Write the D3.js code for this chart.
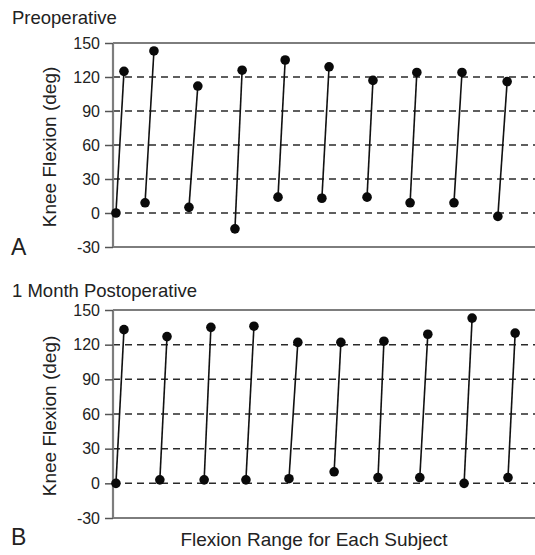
<!DOCTYPE html>
<html>
<head>
<meta charset="utf-8">
<script src="https://cdn.jsdelivr.net/npm/d3@7"></script>
<style>
  html, body { margin: 0; padding: 0; background: #fff; }
  svg { display: block; font-family: "Liberation Sans", Arial, Helvetica, sans-serif; }
</style>
</head>
<body>
<svg id="chart" width="535" height="555"></svg>
<script>
// Knee flexion range (lowest -> highest angle) for each of ten subjects.
const yTicks = [-30, 0, 30, 60, 90, 120, 150];

// Horizontal slot positions (subject units) of each range's two ends.
const preLowPos  = [0.07, 0.76, 1.80, 2.89, 3.91, 4.95, 6.02, 7.04, 8.08, 9.12];
const preHighPos = [0.26, 0.97, 2.01, 3.06, 4.08, 5.12, 6.16, 7.20, 8.27, 9.34];
const preMin = [0, 9, 5, -14, 14, 13, 14, 9, 9, -3];
const preMax = [125, 143, 112, 126, 135, 129, 117, 124, 124, 116];

const postLowPos  = [0.07, 1.11, 2.16, 3.15, 4.17, 5.24, 6.28, 7.27, 8.32, 9.36];
const postHighPos = [0.26, 1.28, 2.32, 3.34, 4.38, 5.40, 6.42, 7.46, 8.51, 9.53];
const postMin = [0, 3, 3, 3, 4, 10, 5, 5, 0, 5];
const postMax = [133, 127, 135, 136, 122, 122, 123, 129, 143, 130];

const svg = d3.select("#chart");
const x = d3.scaleLinear().domain([0, 10]).range([113, 535]);

function panel(cfg) {
  const y = d3.scaleLinear().domain([-30, 150]).range([cfg.bottom, cfg.top]);
  const g = svg.append("g");

  // dashed reference lines
  g.selectAll("line.grid")
    .data(yTicks.filter(t => t > -30 && t < 150))
    .join("line")
    .attr("class", "grid")
    .attr("x1", x(0)).attr("x2", 535)
    .attr("y1", d => y(d)).attr("y2", d => y(d))
    .attr("stroke", "#2a2a2a")
    .attr("stroke-width", 1.5)
    .attr("stroke-dasharray", "7,5");

  // top and bottom frame lines
  [150, -30].forEach(v => {
    g.append("line")
      .attr("x1", x(0)).attr("x2", 535)
      .attr("y1", y(v)).attr("y2", y(v))
      .attr("stroke", "#7d7d7d").attr("stroke-width", 2.2);
  });

  // y axis
  const axis = d3.axisLeft(y).tickValues(yTicks).tickSize(8).tickPadding(5)
    .tickFormat(d => String(d));
  const ag = g.append("g").attr("transform", `translate(${x(0)},0)`).call(axis);
  ag.select(".domain").attr("stroke", "#7d7d7d").attr("stroke-width", 2.2)
    .attr("d", `M0,${y(150)}V${y(-30)}`);
  ag.selectAll(".tick line").attr("stroke", "#555").attr("stroke-width", 1.5);
  ag.selectAll(".tick text")
    .attr("fill", "#222")
    .style("font-size", "16px")
    .style("font-family", "'Liberation Sans', Arial, sans-serif");

  const rows = cfg.lowPos.map((lp, i) => ({
    x1: lp, y1: cfg.min[i], x2: cfg.highPos[i], y2: cfg.max[i]
  }));

  g.selectAll("line.range")
    .data(rows)
    .join("line")
    .attr("class", "range")
    .attr("x1", d => x(d.x1)).attr("y1", d => y(d.y1))
    .attr("x2", d => x(d.x2)).attr("y2", d => y(d.y2))
    .attr("stroke", "#111").attr("stroke-width", 1.6);

  const ends = rows.flatMap(d => [[d.x1, d.y1], [d.x2, d.y2]]);
  g.selectAll("circle.end")
    .data(ends)
    .join("circle")
    .attr("class", "end")
    .attr("cx", d => x(d[0])).attr("cy", d => y(d[1]))
    .attr("r", 4.8)
    .attr("fill", "#0a0a0a");

  // titles and labels
  g.append("text")
    .attr("x", 12).attr("y", cfg.titleY)
    .attr("fill", "#222")
    .style("font-size", "18.5px")
    .text(cfg.title);

  g.append("text")
    .attr("x", 11).attr("y", cfg.letterY)
    .attr("fill", "#222")
    .style("font-size", "23px")
    .text(cfg.letter);

  g.append("text")
    .attr("transform", `translate(56,${(cfg.top + cfg.bottom) / 2 + 2}) rotate(-90)`)
    .attr("text-anchor", "middle")
    .attr("fill", "#222")
    .style("font-size", "19px")
    .text("Knee Flexion (deg)");
}

panel({
  top: 43, bottom: 247, title: "Preoperative", titleY: 24,
  letter: "A", letterY: 255,
  lowPos: preLowPos, highPos: preHighPos, min: preMin, max: preMax
});

panel({
  top: 310, bottom: 518, title: "1 Month Postoperative", titleY: 297,
  letter: "B", letterY: 545,
  lowPos: postLowPos, highPos: postHighPos, min: postMin, max: postMax
});

svg.append("text")
  .attr("x", 314).attr("y", 546)
  .attr("text-anchor", "middle")
  .attr("fill", "#222")
  .style("font-size", "19px")
  .text("Flexion Range for Each Subject");
</script>
</body>
</html>
